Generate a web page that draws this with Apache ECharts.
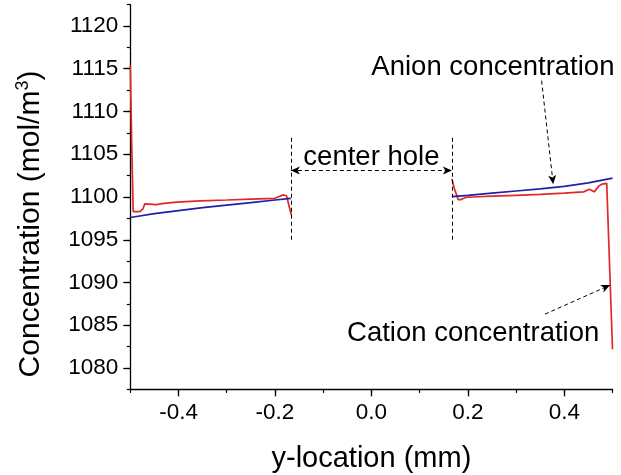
<!DOCTYPE html>
<html>
<head>
<meta charset="utf-8">
<script src="https://cdn.jsdelivr.net/npm/echarts@6/dist/echarts.min.js"></script>
<style>
  html, body { margin: 0; padding: 0; background: #fff; }
  #chart { width: 621px; height: 475px; }
</style>
</head>
<body>
<div id="chart"></div>
<script>
// y-location (mm) and concentration (mol/m^3), left and right of the centre hole
const anionLeftX  = [-0.5, -0.45, -0.4, -0.35, -0.3, -0.25, -0.2, -0.167];
const anionLeftY  = [1097.6, 1098.05, 1098.4, 1098.75, 1099.05, 1099.35, 1099.65, 1099.85];
const anionRightX = [0.167, 0.2, 0.25, 0.3, 0.35, 0.4, 0.45, 0.5];
const anionRightY = [1100.05, 1100.2, 1100.45, 1100.7, 1100.95, 1101.25, 1101.65, 1102.2];

const cationLeftX = [-0.5, -0.497, -0.494, -0.48, -0.474, -0.47, -0.446, -0.43, -0.404, -0.355, -0.3, -0.25, -0.2, -0.183, -0.176, -0.166];
const cationLeftY = [1115.4, 1106.0, 1098.3, 1098.3, 1098.6, 1099.2, 1099.1, 1099.25, 1099.4, 1099.55, 1099.65, 1099.75, 1099.85, 1100.25, 1100.15, 1097.9];
const cationRightX = [0.167, 0.172, 0.18, 0.186, 0.195, 0.21, 0.25, 0.3, 0.35, 0.4, 0.44, 0.452, 0.462, 0.472, 0.478, 0.488, 0.491, 0.5];
const cationRightY = [1102.1, 1101.0, 1099.7, 1099.7, 1099.95, 1100.0, 1100.1, 1100.2, 1100.3, 1100.45, 1100.6, 1100.9, 1100.6, 1101.3, 1101.5, 1101.6, 1101.4, 1082.2];

// axis ticks
const xMajorTicks = [-0.4, -0.2, 0.0, 0.2, 0.4];
const yMajorTicks = [1080, 1085, 1090, 1095, 1100, 1105, 1110, 1115, 1120];

// hole edges and annotation text (data coordinates)
const holeEdges = [-0.167, 0.167];
const holeSpan = [1095, 1107];
const holeArrowY = 1103.1;
const notes = [
  { name: 'center hole', value: [0.0, 1104.6] },
  { name: 'Anion concentration', value: [0.252, 1115.1] },
  { name: 'Cation concentration', value: [0.211, 1084.0] }
];
const anionPointer = [[0.353, 1113.6], [0.377, 1101.5]];
const cationPointer = [[0.36, 1086.3], [0.495, 1089.7]];

const zip = (xs, ys) => xs.map((x, i) => [x, ys[i]]);

const FONT = '"Liberation Sans", Arial, sans-serif';
const BLUE = '#2020aa';
const RED = '#e02828';

const chart = echarts.init(document.getElementById('chart'), null, { renderer: 'canvas' });

const dashed = { color: '#000', width: 1, type: [4, 3] };
const arrowEnd = (from, to) => [
  { coord: from, symbol: 'none' },
  { coord: to, symbol: 'arrow', symbolSize: [6, 9] }
];

const option = {
  animation: false,
  backgroundColor: '#fff',
  grid: { left: 130.3, right: 8.5, top: 4.6, bottom: 85.6, containLabel: false, outerBoundsMode: 'none' },
  xAxis: [
    {
      type: 'value', min: -0.5, max: 0.5,
      name: 'y-location (mm)', nameLocation: 'middle', nameGap: 55,
      nameTextStyle: { fontFamily: FONT, fontSize: 29, color: '#000' },
      axisLine: { show: true, onZero: false, lineStyle: { color: '#000', width: 1.3 } },
      axisTick: { show: true, inside: false, length: 7, customValues: xMajorTicks, lineStyle: { color: '#000', width: 1.3 } },
      axisLabel: {
        show: true, customValues: xMajorTicks, margin: 12,
        fontFamily: FONT, fontSize: 22.5, color: '#000',
        formatter: v => v.toFixed(1)
      },
      splitLine: { show: false }
    },
    {
      type: 'value', min: -0.5, max: 0.5, interval: 0.1, position: 'bottom',
      axisLine: { show: false, onZero: false },
      axisTick: { show: true, length: 3.5, lineStyle: { color: '#000', width: 1.2 } },
      axisLabel: { show: false },
      splitLine: { show: false }
    }
  ],
  yAxis: [
    {
      type: 'value', min: 1077.5, max: 1122.5,
      name: 'Concentration (mol/m{sup|3})', nameLocation: 'middle', nameGap: 84, nameRotate: 90,
      nameTextStyle: {
        fontFamily: FONT, fontSize: 30, color: '#000', padding: [0, 54, 0, 0],
        rich: { sup: { fontFamily: FONT, fontSize: 18, color: '#000', verticalAlign: 'top', padding: [0, 0, 14, 0] } }
      },
      axisLine: { show: true, onZero: false, lineStyle: { color: '#000', width: 1.3 } },
      axisTick: { show: true, length: 7, customValues: yMajorTicks, lineStyle: { color: '#000', width: 1.3 } },
      axisLabel: {
        show: true, customValues: yMajorTicks, margin: 12,
        fontFamily: FONT, fontSize: 22.5, color: '#000',
        formatter: v => String(v)
      },
      splitLine: { show: false }
    },
    {
      type: 'value', min: 1077.5, max: 1122.5, interval: 2.5, position: 'left',
      axisLine: { show: false, onZero: false },
      axisTick: { show: true, length: 3.5, lineStyle: { color: '#000', width: 1.2 } },
      axisLabel: { show: false },
      splitLine: { show: false }
    }
  ],
  series: [
    {
      name: 'Anion', type: 'line', data: zip(anionLeftX, anionLeftY),
      showSymbol: false, lineStyle: { color: BLUE, width: 1.7 }, z: 3
    },
    {
      name: 'Anion', type: 'line', data: zip(anionRightX, anionRightY),
      showSymbol: false, lineStyle: { color: BLUE, width: 1.7 }, z: 3
    },
    {
      name: 'Cation', type: 'line', data: zip(cationLeftX, cationLeftY),
      showSymbol: false, lineStyle: { color: RED, width: 1.7 }, z: 2
    },
    {
      name: 'Cation', type: 'line', data: zip(cationRightX, cationRightY),
      showSymbol: false, lineStyle: { color: RED, width: 1.7 }, z: 2
    },
    {
      // hole edges, hole width arrow and pointers to the curves
      name: 'guides', type: 'line', data: [], silent: true,
      markLine: {
        silent: true, animation: false,
        label: { show: false },
        lineStyle: dashed,
        emphasis: { disabled: true },
        data: [
          [{ coord: [holeEdges[0], holeSpan[0]], symbol: 'none' }, { coord: [holeEdges[0], holeSpan[1]], symbol: 'none' }],
          [{ coord: [holeEdges[1], holeSpan[0]], symbol: 'none' }, { coord: [holeEdges[1], holeSpan[1]], symbol: 'none' }],
          [{ coord: [holeEdges[0], holeArrowY], symbol: 'arrow', symbolSize: [6, 9] },
           { coord: [holeEdges[1], holeArrowY], symbol: 'arrow', symbolSize: [6, 9] }],
          arrowEnd(anionPointer[0], anionPointer[1]),
          arrowEnd(cationPointer[0], cationPointer[1])
        ]
      }
    },
    {
      name: 'notes', type: 'scatter', data: notes, symbolSize: 0, silent: true,
      itemStyle: { opacity: 1 },
      label: {
        show: true, position: 'inside', formatter: p => p.name,
        fontFamily: FONT, fontSize: 27.5, color: '#000', textBorderWidth: 0, opacity: 1
      }
    }
  ]
};

chart.setOption(option);
</script>
</body>
</html>
